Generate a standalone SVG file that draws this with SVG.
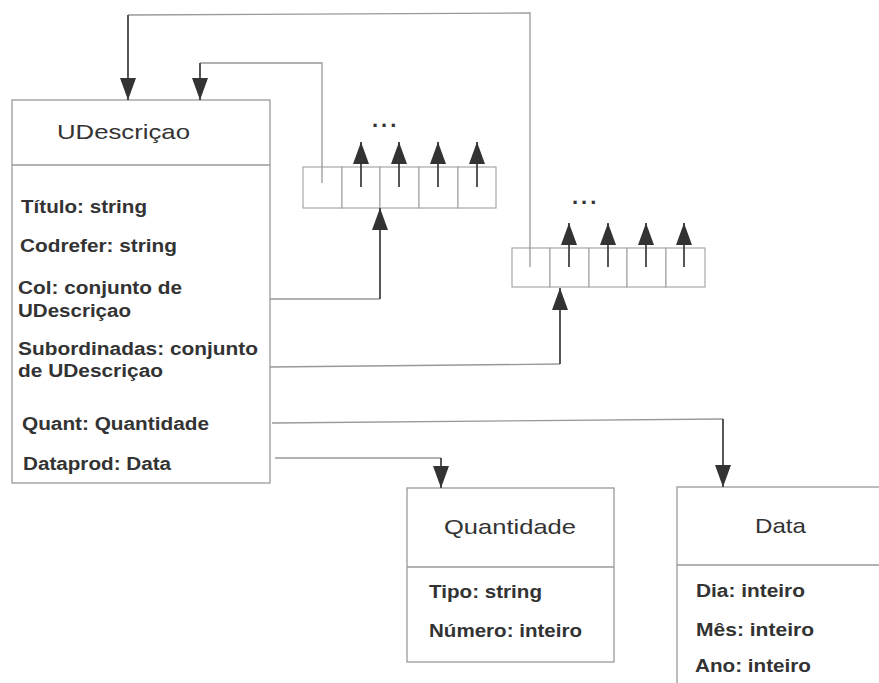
<svg xmlns="http://www.w3.org/2000/svg" width="879" height="683" viewBox="0 0 879 683">
  <style>
    .box { fill: #ffffff; stroke: #9a9a9a; stroke-width: 1.3; }
    .sep { stroke: #9a9a9a; stroke-width: 1.3; fill: none; }
    .cell { fill: #ffffff; stroke: #a0a0a0; stroke-width: 1.1; }
    .wire { fill: none; stroke: #999999; stroke-width: 1.3; }
    .shaft { fill: none; stroke: #444444; stroke-width: 1.8; marker-end: url(#head); }
    .title { font-family: "Liberation Sans", Arial, sans-serif; font-size: 21px; fill: #333333; }
    .attr { font-family: "Liberation Sans", Arial, sans-serif; font-size: 18px; font-weight: bold; fill: #333333; }
    .dots { font-family: "Liberation Sans", Arial, sans-serif; font-size: 22px; font-weight: bold; fill: #333333; letter-spacing: 3px; }
  </style>
  <defs>
    <marker id="head" viewBox="0 0 22 16" refX="22" refY="8" markerWidth="22" markerHeight="16" markerUnits="userSpaceOnUse" orient="auto">
      <path d="M0,0 L22,8 L0,16 z" fill="#333333"/>
    </marker>
  </defs>

  <!-- class UDescriçao -->
  <g id="udescricao">
    <rect class="box" x="12" y="100" width="258" height="383"/>
    <line class="sep" x1="12" y1="165" x2="270" y2="165"/>
    <text class="title" x="57" y="139" textLength="133" lengthAdjust="spacingAndGlyphs">UDescriçao</text>
    <text class="attr" x="21" y="213" textLength="126" lengthAdjust="spacingAndGlyphs">Título: string</text>
    <text class="attr" x="20" y="252" textLength="157" lengthAdjust="spacingAndGlyphs">Codrefer: string</text>
    <text class="attr" x="18" y="294" textLength="164" lengthAdjust="spacingAndGlyphs">Col: conjunto de</text>
    <text class="attr" x="18" y="317" textLength="113" lengthAdjust="spacingAndGlyphs">UDescriçao</text>
    <text class="attr" x="18" y="355" textLength="240" lengthAdjust="spacingAndGlyphs">Subordinadas: conjunto</text>
    <text class="attr" x="18" y="377" textLength="145" lengthAdjust="spacingAndGlyphs">de UDescriçao</text>
    <text class="attr" x="22" y="430" textLength="187" lengthAdjust="spacingAndGlyphs">Quant: Quantidade</text>
    <text class="attr" x="23" y="470" textLength="148" lengthAdjust="spacingAndGlyphs">Dataprod: Data</text>
  </g>

  <!-- array of references held by Col -->
  <g id="array-col">
    <rect class="cell" x="303" y="167" width="39" height="41"/>
    <rect class="cell" x="342" y="167" width="38" height="41"/>
    <rect class="cell" x="380" y="167" width="39" height="41"/>
    <rect class="cell" x="419" y="167" width="39" height="41"/>
    <rect class="cell" x="458" y="167" width="38" height="41"/>
    <path class="shaft" d="M361 187 V142"/>
    <path class="shaft" d="M399 187 V142"/>
    <path class="shaft" d="M438 187 V142"/>
    <path class="shaft" d="M477 187 V142"/>
    <text class="dots" x="372" y="127">...</text>
  </g>

  <!-- array of references held by Subordinadas -->
  <g id="array-subordinadas">
    <rect class="cell" x="512" y="248" width="38" height="39"/>
    <rect class="cell" x="550" y="248" width="39" height="39"/>
    <rect class="cell" x="589" y="248" width="38" height="39"/>
    <rect class="cell" x="627" y="248" width="39" height="39"/>
    <rect class="cell" x="666" y="248" width="39" height="39"/>
    <path class="shaft" d="M569 267 V223"/>
    <path class="shaft" d="M608 267 V223"/>
    <path class="shaft" d="M646 267 V223"/>
    <path class="shaft" d="M684 267 V223"/>
    <text class="dots" x="572" y="204">...</text>
  </g>

  <!-- class Quantidade -->
  <g id="quantidade">
    <rect class="box" x="407" y="488" width="207" height="174"/>
    <line class="sep" x1="407" y1="567" x2="614" y2="567"/>
    <text class="title" x="444" y="534" textLength="132" lengthAdjust="spacingAndGlyphs">Quantidade</text>
    <text class="attr" x="429" y="598" textLength="113" lengthAdjust="spacingAndGlyphs">Tipo: string</text>
    <text class="attr" x="429" y="637" textLength="153" lengthAdjust="spacingAndGlyphs">Número: inteiro</text>
  </g>

  <!-- class Data (runs past the right and bottom edges) -->
  <g id="data">
    <rect class="box" x="677" y="487" width="230" height="220"/>
    <line class="sep" x1="677" y1="565" x2="879" y2="565"/>
    <text class="title" x="755" y="533" textLength="51" lengthAdjust="spacingAndGlyphs">Data</text>
    <text class="attr" x="696" y="597" textLength="109" lengthAdjust="spacingAndGlyphs">Dia: inteiro</text>
    <text class="attr" x="696" y="636" textLength="118" lengthAdjust="spacingAndGlyphs">Mês: inteiro</text>
    <text class="attr" x="695" y="672" textLength="116" lengthAdjust="spacingAndGlyphs">Ano: inteiro</text>
  </g>

  <!-- connectors -->
  <g id="connectors">
    <!-- Subordinadas array, first cell back to UDescriçao -->
    <path class="wire" d="M530 267 V13 L128 15"/>
    <path class="shaft" d="M128 15 V100"/>
    <!-- Col array, first cell back to UDescriçao -->
    <path class="wire" d="M322 183 V63 H200"/>
    <path class="shaft" d="M200 63 V100"/>
    <!-- Col -> array -->
    <path class="wire" d="M270 299 H380"/>
    <path class="shaft" d="M380 299 V208"/>
    <!-- Subordinadas -> array -->
    <path class="wire" d="M270 367 L560 364"/>
    <path class="shaft" d="M560 364 V288"/>
    <!-- Quant -> Data -->
    <path class="wire" d="M272 423 L723 419"/>
    <path class="shaft" d="M723 419 V487"/>
    <!-- Dataprod -> Quantidade -->
    <path class="wire" d="M275 458 H441"/>
    <path class="shaft" d="M441 458 V488"/>
  </g>
</svg>
